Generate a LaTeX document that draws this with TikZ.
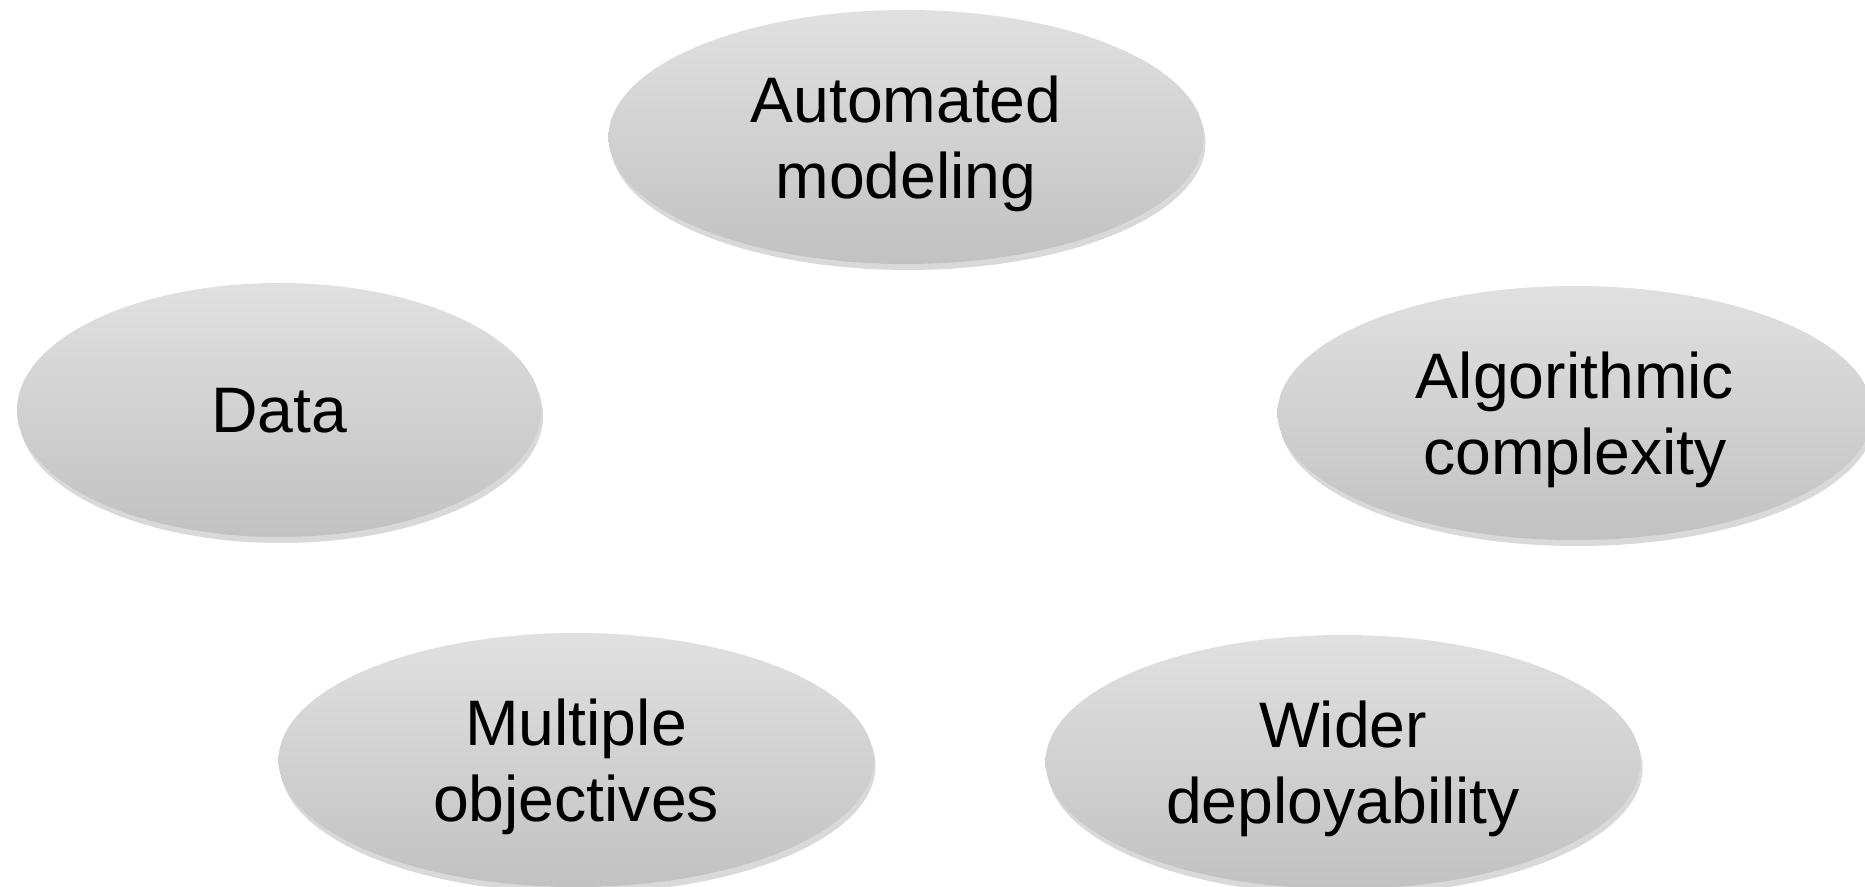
\documentclass[tikz,border=0pt]{standalone}
\usepackage{fontspec}
\setmainfont{Liberation Sans}
\usetikzlibrary{shapes.geometric,shadows}

\begin{document}
\begin{tikzpicture}[
    main/.style = {ellipse, inner sep=0pt, minimum width=5.95cm, minimum height=2.54cm,
        top color=gray!24, bottom color=gray!48, draw=none,
        drop shadow={opacity=0.3, shadow xshift=0.02cm, shadow yshift=-0.06cm},
        align=center, text depth=0pt, font=\fontsize{18.3}{21.5}\selectfont}]
    \useasboundingbox (0,0) rectangle (18.65,-8.87);
    \node[main] (auto) at (9.06,-1.37) {Automated\\modeling};
    \node[main, minimum width=5.24cm] (data) at (2.79,-4.10) {Data};
    \node[main] (algo) at (15.75,-4.13) {Algorithmic\\complexity};
    \node[main] (multi) at (5.76,-7.60) {Multiple\\objectives};
    \node[main] (wider) at (13.43,-7.62) {Wider\\deployability};
\end{tikzpicture}
\end{document}
